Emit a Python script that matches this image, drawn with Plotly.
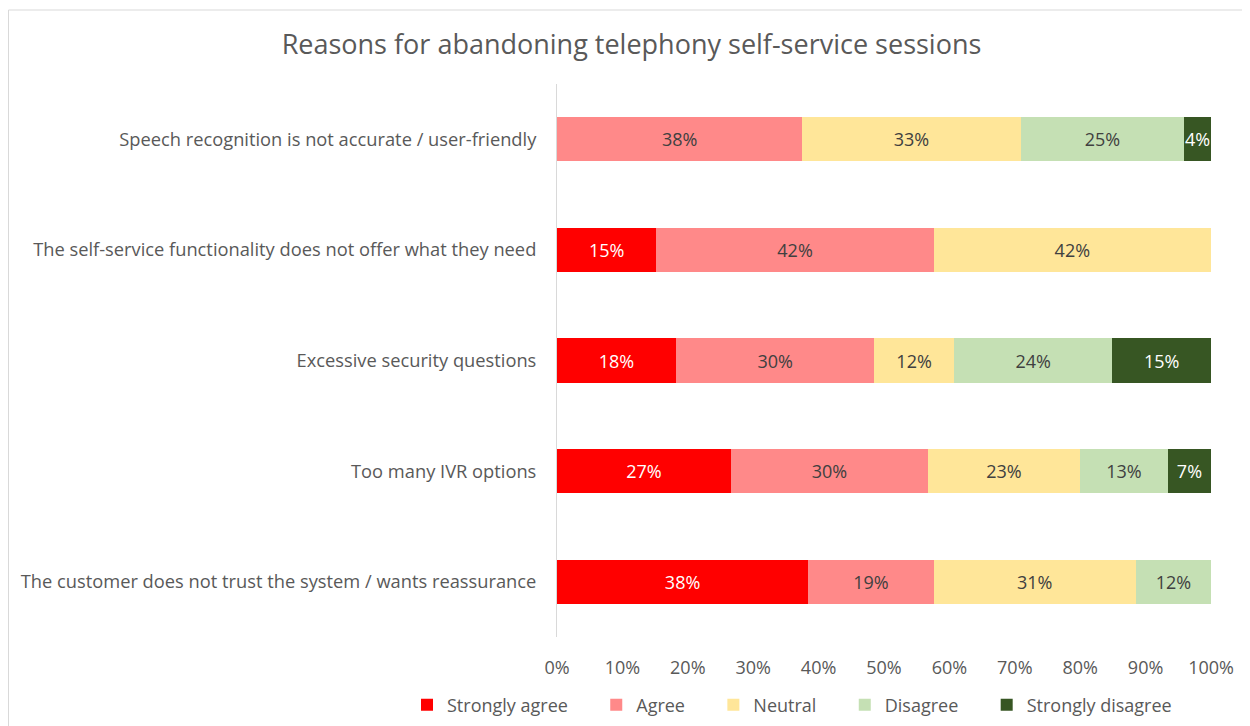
import plotly.graph_objects as go

categories = [
    "Speech recognition is not accurate / user-friendly",
    "The self-service functionality does not offer what they need",
    "Excessive security questions",
    "Too many IVR options",
    "The customer does not trust the system / wants reassurance",
]
series_names = ["Strongly agree", "Agree", "Neutral", "Disagree", "Strongly disagree"]
strongly_agree = [0, 15.2, 18.2, 26.6, 38.4]
agree = [37.5, 42.4, 30.3, 30.1, 19.2]
neutral = [33.4, 42.4, 12.2, 23.3, 30.9]
disagree = [25.0, 0, 24.2, 13.4, 11.5]
strongly_disagree = [4.1, 0, 15.1, 6.6, 0]
x_ticks = [0, 10, 20, 30, 40, 50, 60, 70, 80, 90, 100]

series_values = [strongly_agree, agree, neutral, disagree, strongly_disagree]
colors = ["#FF0000", "#FF8989", "#FFE699", "#C5E0B4", "#375623"]
text_colors = ["#FFFFFF", "#404040", "#404040", "#404040", "#FFFFFF"]

FONT = "Open Sans"
OFF = 8  # page body margin offset
W, H = 1250 - OFF, 726 - OFF
L, R, T, B = 557 - OFF, 39, 84 - OFF, 89
PW, PH = W - L - R, H - T - B
LEGEND_PAD = "\u00a0" * 5  # extra spacing between legend entries

def px2x(px):
    return (px - OFF - L) / PW

def py2y(py):
    return (H - B - (py - OFF)) / PH

fig = go.Figure()
n = len(series_names)
for i, (name, vals, col, tcol) in enumerate(zip(series_names, series_values, colors, text_colors)):
    fig.add_trace(go.Bar(
        name=name + (LEGEND_PAD if i < n - 1 else ""),
        y=categories,
        x=vals,
        orientation="h",
        marker=dict(color=col, line=dict(width=0)),
        text=[f"{round(v)}%" if v > 0 else "" for v in vals],
        textposition="inside",
        insidetextanchor="middle",
        textangle=0,
        constraintext="none",
        textfont=dict(family=FONT, size=18, color=tcol),
        hovertemplate=name + ": %{x:.0f}%<extra></extra>",
    ))

fig.update_layout(
    barmode="stack",
    bargap=0.6,
    width=W,
    height=H,
    margin=dict(l=L, r=R, t=T, b=B, pad=0, autoexpand=False),
    paper_bgcolor="white",
    plot_bgcolor="white",
    font=dict(family=FONT, color="#595959"),
    title=dict(
        text="Reasons for abandoning telephony self-service sessions",
        x=(631.5 - OFF) / W, xanchor="center", xref="container",
        y=1 - (45 - OFF) / H, yanchor="middle", yref="container",
        font=dict(family=FONT, size=27, color="#595959"),
    ),
    xaxis=dict(
        range=[0, 100],
        tickvals=x_ticks,
        ticktext=[f"{v}%" for v in x_ticks],
        showgrid=False,
        zeroline=False,
        showline=False,
        ticks="",
        ticklabelstandoff=18,
        tickfont=dict(family=FONT, size=18, color="#595959"),
        fixedrange=True,
    ),
    yaxis=dict(
        autorange="reversed",
        showgrid=False,
        zeroline=False,
        showline=True,
        linecolor="#D9D9D9",
        linewidth=1,
        ticks="",
        ticklabelstandoff=16,
        tickfont=dict(family=FONT, size=18.3, color="#595959"),
        fixedrange=True,
    ),
    legend=dict(
        orientation="h",
        x=px2x(407), xanchor="left",
        y=py2y(705), yanchor="middle",
        font=dict(family=FONT, size=18, color="#595959"),
        traceorder="normal",
        itemwidth=30,
    ),
    showlegend=True,
    shapes=[
        dict(type="line", xref="paper", yref="paper",
             x0=px2x(8.5), x1=px2x(1250), y0=py2y(10), y1=py2y(10),
             line=dict(color="#D9D9D9", width=1)),
        dict(type="line", xref="paper", yref="paper",
             x0=px2x(8.5), x1=px2x(8.5), y0=py2y(10), y1=py2y(726),
             line=dict(color="#D9D9D9", width=1)),
    ],
)

fig.write_html("out.html")
